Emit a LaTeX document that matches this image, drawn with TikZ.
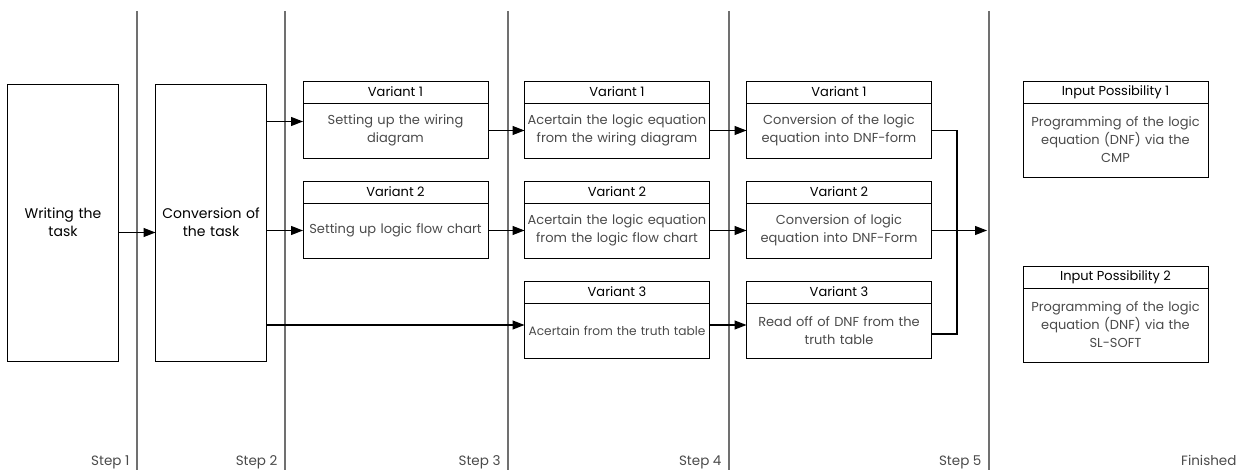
\documentclass[tikz,border=0pt]{standalone}
\usepackage{fontspec}
\setmainfont{Poppins}
\usetikzlibrary{positioning,arrows.meta}
\definecolor{txtgray}{HTML}{4A4A4A}
\definecolor{sepgray}{HTML}{707070}
\begin{document}
\begin{tikzpicture}[x=1pt,y=-1pt,
    font=\fontsize{13}{18}\selectfont,
    sep/.style={sepgray, line width=1.1pt},
    bigbox/.style={draw, line width=0.9pt, minimum width=111pt, minimum height=277pt, text width=104pt, align=center, inner sep=0pt, outer sep=0pt, font=\fontsize{14}{18}\selectfont},
    head/.style={draw, line width=0.9pt, minimum width=185pt, minimum height=22pt, inner sep=0pt, outer sep=0pt},
    body/.style={draw, line width=0.9pt, minimum width=185pt, minimum height=55pt, text width=183pt, align=center, inner sep=0pt, outer sep=0pt, text=txtgray},
    steplabel/.style={anchor=base east, text=txtgray, font=\fontsize{13.5}{16}\selectfont},
    link/.style={line width=1.2pt},
    arr/.style={link, -{Triangle[length=12pt,width=9pt]}}]
    \useasboundingbox (0,0) rectangle (1243,470);

    % The step separators
    \foreach \x in {137,285,508,729,989}
        \draw[sep] (\x,11) -- (\x,470);

    % Step 1 and 2
    \node[bigbox] (task) at (63,222.5) {Writing the\\task};
    \node[bigbox] (conv) at (211,222.5) {Conversion of\\the task};

    % Step 3
    \node[head] (v1h) at (395.5,92) {Variant 1};
    \node[body, below=0pt of v1h] (v1b) {Setting up the wiring\\diagram};
    \node[head] (v2h) at (395.5,192) {Variant 2};
    \node[body, below=0pt of v2h] (v2b) {Setting up logic flow chart};

    % Step 4
    \node[head] (w1h) at (617,92) {Variant 1};
    \node[body, below=0pt of w1h] (w1b) {Acertain the logic equation\\from the wiring diagram};
    \node[head] (w2h) at (617,192) {Variant 2};
    \node[body, below=0pt of w2h] (w2b) {Acertain the logic equation\\from the logic flow chart};
    \node[head] (w3h) at (617,292) {Variant 3};
    \node[body, below=0pt of w3h, font=\fontsize{12.2}{18}\selectfont] (w3b) {Acertain from the truth table};

    % Step 5
    \node[head] (x1h) at (839,92) {Variant 1};
    \node[body, below=0pt of x1h] (x1b) {Conversion of the logic\\equation into DNF-form};
    \node[head] (x2h) at (839,192) {Variant 2};
    \node[body, below=0pt of x2h] (x2b) {Conversion of logic\\equation into DNF-Form};
    \node[head] (x3h) at (839,292) {Variant 3};
    \node[body, below=0pt of x3h] (x3b) {Read off of DNF from the\\truth table};

    % Finished
    \node[head] (p1h) at (1115.5,92) {Input Possibility 1};
    \node[body, minimum height=74pt, below=0pt of p1h] (p1b) {Programming of the logic\\equation (DNF) via the\\CMP};
    \node[head] (p2h) at (1115.5,277) {Input Possibility 2};
    \node[body, minimum height=74pt, below=0pt of p2h] (p2b) {Programming of the logic\\equation (DNF) via the\\SL-SOFT};

    % Step labels
    \node[steplabel] (s1) at (133,465) {Step 1};
    \node[steplabel] (s2) at (281,465) {Step 2};
    \node[steplabel] (s3) at (504,465) {Step 3};
    \node[steplabel] (s4) at (725,465) {Step 4};
    \node[steplabel] (s5) at (985,465) {Step 5};
    \node[steplabel] (s6) at (1240,465) {Finished};

    % Connectors
    \coordinate (c0) at ([yshift=-10pt]conv.west);
    \coordinate (c1) at ([yshift=9pt]v1b.west);
    \coordinate (c3) at ([yshift=5.5pt]w3b.west);
    \coordinate (c4) at ([yshift=5.5pt]x3b.west);
    \coordinate (c5) at ([yshift=-3.5pt]x3b.east);
    \coordinate (jn) at (957,230.5);
    \coordinate (fin) at (987,230.5);
    \draw[arr] (c0 -| task.east) -- (c0);
    \draw[arr] (c1 -| conv.east) -- (c1);
    \draw[arr] (v2b.west -| conv.east) -- (v2b.west);
    \draw[arr] (c3 -| conv.east) -- (c3);
    \draw[arr] (v1b.east) -- (w1b.west);
    \draw[arr] (v2b.east) -- (w2b.west);
    \draw[arr] (w1b.east) -- (x1b.west);
    \draw[arr] (w2b.east) -- (x2b.west);
    \draw[arr] (c3 -| w3b.east) -- (c4);
    \draw[link] (x1b.east) -| (jn);
    \draw[link] (c5) -| (jn);
    \draw[arr] (x2b.east) -- (fin);
\end{tikzpicture}
\end{document}
